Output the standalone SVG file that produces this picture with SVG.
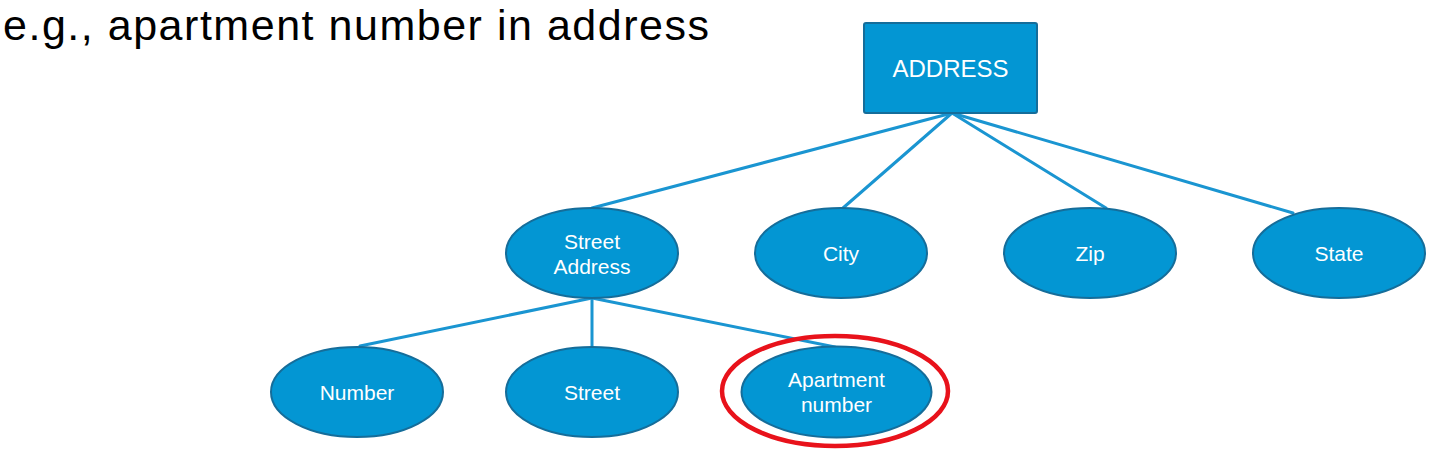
<svg xmlns="http://www.w3.org/2000/svg" width="1441" height="451" viewBox="0 0 1441 451">
<style>
.bg{fill:#ffffff}
.node{fill:#0396D3;stroke:#156D9A;stroke-width:2}
.lbl{font-family:"Liberation Sans",Arial,sans-serif;font-size:21px;fill:#ffffff;text-anchor:middle}
.conn line{stroke:#1A95D1;stroke-width:3;stroke-linecap:round}
.title{font-family:"Liberation Sans",Arial,sans-serif;font-size:43px;fill:#000000}
.hl{fill:none;stroke:#E8121B;stroke-width:4.5}
</style>
<rect class="bg" x="0" y="0" width="1441" height="451"/>
<text class="title" x="3" y="40" textLength="706" lengthAdjust="spacing">e.g., apartment number in address</text>
<g id="connectors" class="conn">
<line x1="952" y1="113" x2="592" y2="208"/>
<line x1="952" y1="113" x2="843" y2="208"/>
<line x1="952" y1="113" x2="1106" y2="208"/>
<line x1="952" y1="113" x2="1293" y2="213"/>
<line x1="592" y1="298" x2="360" y2="346"/>
<line x1="592" y1="298" x2="592" y2="346"/>
<line x1="592" y1="298" x2="835" y2="347"/>
</g>
<g id="address">
<rect class="node" x="864" y="23" width="173" height="90" rx="2"/>
<text class="lbl" x="950.5" y="77" style="font-size:24px">ADDRESS</text>
</g>
<g id="street-address">
<ellipse class="node" cx="592" cy="253" rx="86" ry="45"/>
<text class="lbl" x="592" y="249">Street</text>
<text class="lbl" x="592" y="274">Address</text>
</g>
<g id="city">
<ellipse class="node" cx="841" cy="253" rx="86" ry="45"/>
<text class="lbl" x="841" y="261">City</text>
</g>
<g id="zip">
<ellipse class="node" cx="1090" cy="253" rx="86" ry="45"/>
<text class="lbl" x="1090" y="261">Zip</text>
</g>
<g id="state">
<ellipse class="node" cx="1339" cy="253" rx="86" ry="45"/>
<text class="lbl" x="1339" y="261">State</text>
</g>
<g id="number">
<ellipse class="node" cx="357" cy="392" rx="86" ry="45"/>
<text class="lbl" x="357" y="400">Number</text>
</g>
<g id="street">
<ellipse class="node" cx="592" cy="392" rx="86" ry="45"/>
<text class="lbl" x="592" y="400">Street</text>
</g>
<g id="apartment-number">
<ellipse class="node" cx="836.5" cy="392" rx="95" ry="45.5"/>
<text class="lbl" x="836.5" y="387">Apartment</text>
<text class="lbl" x="836.5" y="412">number</text>
<ellipse class="hl" cx="835" cy="391" rx="113" ry="55"/>
</g>
</svg>
